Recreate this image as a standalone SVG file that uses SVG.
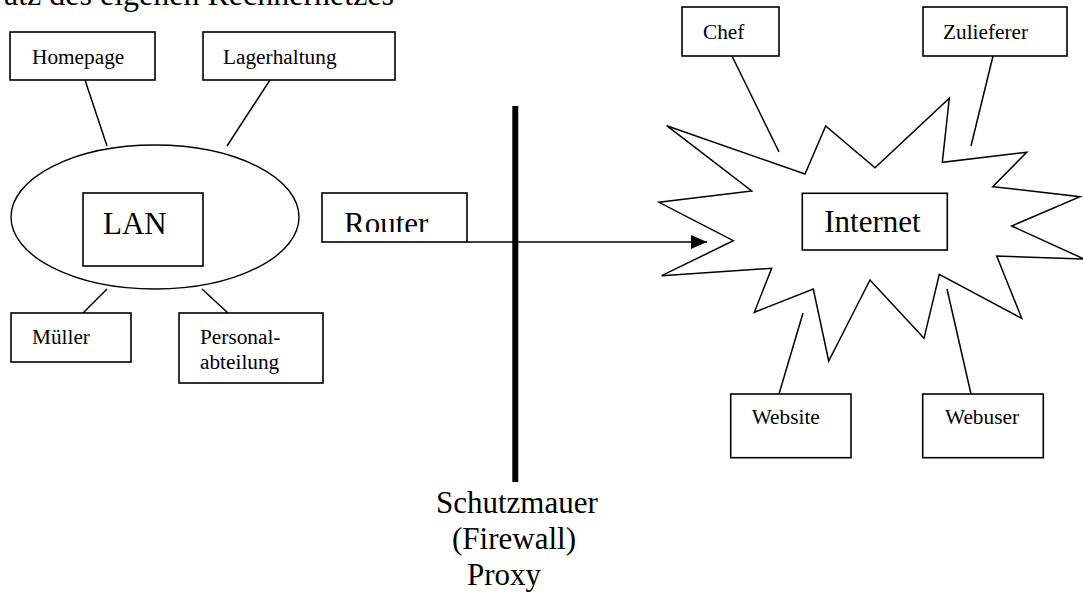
<svg xmlns="http://www.w3.org/2000/svg" width="1083" height="599" viewBox="0 0 1083 599">
<style>
  .box { fill: #fff; stroke: #000; stroke-width: 1.6; }
  .ln { fill: none; stroke: #000; stroke-width: 1.5; }
  .t { font-family: "Liberation Serif", "Times New Roman", serif; fill: #000; }
  .s { font-size: 21.3px; }
  .l { font-size: 31px; }
</style>
<defs>
  <marker id="arr" markerWidth="16" markerHeight="14" refX="16" refY="7" orient="auto" markerUnits="userSpaceOnUse">
    <path d="M0,0 L16,7 L0,14 Z" fill="#000"/>
  </marker>
  <clipPath id="rclip"><rect x="322" y="193" width="146" height="39"/></clipPath>
</defs>
<rect width="1083" height="599" fill="#fff"/>

<text class="t" x="4" y="5" font-size="32px">atz des eigenen Rechnernetzes</text>

<g id="connectors">
  <line class="ln" x1="85" y1="80" x2="107" y2="146"/>
  <line class="ln" x1="270" y1="80" x2="227" y2="146"/>
  <line class="ln" x1="107" y1="289" x2="83" y2="313"/>
  <line class="ln" x1="202" y1="289" x2="228" y2="313"/>
  <line class="ln" x1="732" y1="56" x2="779" y2="152"/>
  <line class="ln" x1="993" y1="56" x2="971" y2="146"/>
  <line class="ln" x1="803" y1="313" x2="779" y2="394"/>
  <line class="ln" x1="947" y1="289" x2="971" y2="394"/>
  <line class="ln" x1="467" y1="242" x2="707" y2="242" marker-end="url(#arr)"/>
</g>

<g id="firewall">
  <line x1="515.3" y1="106" x2="515.3" y2="482" stroke="#000" stroke-width="6"/>
  <text class="t l" x="436" y="513">Schutzmauer</text>
  <text class="t l" x="452" y="549">(Firewall)</text>
  <text class="t l" x="467" y="585">Proxy</text>
</g>

<g id="lan">
  <ellipse cx="155" cy="217" rx="144" ry="72" fill="#fff" stroke="#000" stroke-width="1.4"/>
  <rect class="box" x="83" y="193" width="120" height="73"/>
  <text class="t l" x="103" y="234">LAN</text>
</g>

<g id="homepage">
  <rect class="box" x="10" y="32" width="145" height="48"/>
  <text class="t s" x="32" y="64">Homepage</text>
</g>
<g id="lagerhaltung">
  <rect class="box" x="203" y="32" width="192" height="48"/>
  <text class="t s" x="223" y="64">Lagerhaltung</text>
</g>
<g id="mueller">
  <rect class="box" x="11" y="313" width="120" height="49"/>
  <text class="t s" x="32" y="344">Müller</text>
</g>
<g id="personal">
  <rect class="box" x="179" y="313" width="144" height="70"/>
  <text class="t s" x="200" y="344">Personal-</text>
  <text class="t s" x="200" y="369">abteilung</text>
</g>

<g id="router">
  <rect class="box" x="322" y="193" width="145" height="49"/>
  <text class="t l" x="344" y="234" clip-path="url(#rclip)">Router</text>
</g>

<g id="internet">
  <polygon class="ln" fill="#fff" points="666.7,125.7 805,174 825.7,126 875,167.7 949.3,98.3 942.3,162.3 1026.7,152.3 992.7,186.7 1080,196.7 1011.7,226 1084,259 996.7,256 1021.7,318.3 939.3,274.3 924,338.3 870,280 828.7,361 813.3,289 754.3,312.3 771.7,268.3 661.7,275.7 733.3,240.7 659,202.3 751.7,191"/>
  <rect class="box" x="802.3" y="193.3" width="145" height="56.7"/>
  <text class="t l" x="824.3" y="232.3">Internet</text>
</g>

<g id="chef">
  <rect class="box" x="682" y="7" width="97" height="49"/>
  <text class="t s" x="703" y="39">Chef</text>
</g>
<g id="zulieferer">
  <rect class="box" x="923" y="7" width="144" height="49"/>
  <text class="t s" x="943" y="39">Zulieferer</text>
</g>
<g id="website">
  <rect class="box" x="730.7" y="394" width="120.3" height="63.7"/>
  <text class="t s" x="751.7" y="424.3">Website</text>
</g>
<g id="webuser">
  <rect class="box" x="922.7" y="394" width="120.6" height="63.7"/>
  <text class="t s" x="945" y="424.3">Webuser</text>
</g>
</svg>
